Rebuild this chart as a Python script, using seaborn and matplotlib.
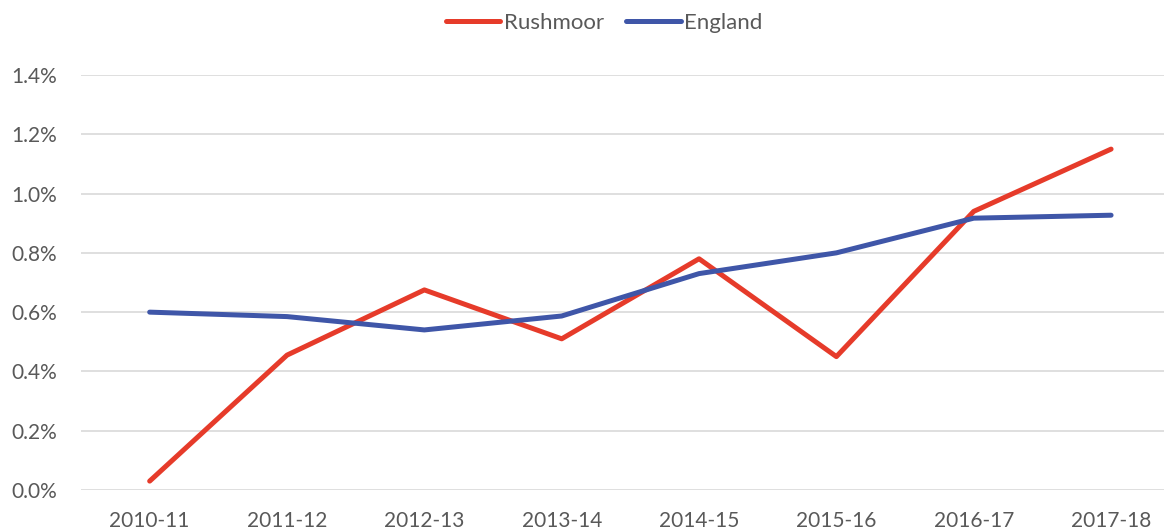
import pandas as pd
import seaborn as sns
import matplotlib.pyplot as plt
from matplotlib.ticker import PercentFormatter

years = ["2010-11", "2011-12", "2012-13", "2013-14", "2014-15", "2015-16", "2016-17", "2017-18"]
rushmoor = [0.03, 0.455, 0.675, 0.51, 0.78, 0.45, 0.94, 1.15]
england = [0.60, 0.585, 0.54, 0.587, 0.73, 0.80, 0.917, 0.927]

df = pd.DataFrame({
    "Year": years * 2,
    "Value": rushmoor + england,
    "Area": ["Rushmoor"] * len(years) + ["England"] * len(years),
})
df["x"] = list(range(len(years))) * 2

sns.set_theme(style="white")
plt.rcParams["font.family"] = ["Lato", "DejaVu Sans"]

fig = plt.figure(figsize=(11.64, 5.29), dpi=100)
ax = fig.add_axes([81 / 1164, 1 - 490 / 529, 1 - 81 / 1164, (490 - 75) / 529])

palette = {"Rushmoor": "#E63B2A", "England": "#3F56A8"}
sns.lineplot(data=df, x="x", y="Value", hue="Area", palette=palette, linewidth=3.6,
             ax=ax, legend=False, solid_capstyle="round", clip_on=False)

ax.set_xlim(-0.5, (1164 - 150) / 137.3)
ax.set_ylim(0, 1.4)
ax.set_yticks([0, 0.2, 0.4, 0.6, 0.8, 1.0, 1.2, 1.4])
ax.yaxis.set_major_formatter(PercentFormatter(decimals=1))
ax.set_xticks(range(len(years)))
ax.set_xticklabels(years)
ax.set_xlabel("")
ax.set_ylabel("")
ax.grid(axis="y", color="#D9D9D9", linewidth=1.2)
ax.set_axisbelow(True)
for s in ax.spines.values():
    s.set_visible(False)
ax.tick_params(axis="both", length=0, labelsize=15, colors="#595959")
ax.tick_params(axis="y", pad=17)
ax.tick_params(axis="x", pad=15)

handles = [plt.Line2D([], [], color=palette[k], linewidth=3.6, solid_capstyle="round") for k in ["Rushmoor", "England"]]
fig.legend(handles, ["Rushmoor", "England"], loc="center", bbox_to_anchor=(0.519, 1 - 23 / 529),
           ncol=2, frameon=False, fontsize=16, labelcolor="#595959",
           handlelength=2.45, handletextpad=0.15, columnspacing=1.0)

fig.savefig("out.png", dpi=100)
